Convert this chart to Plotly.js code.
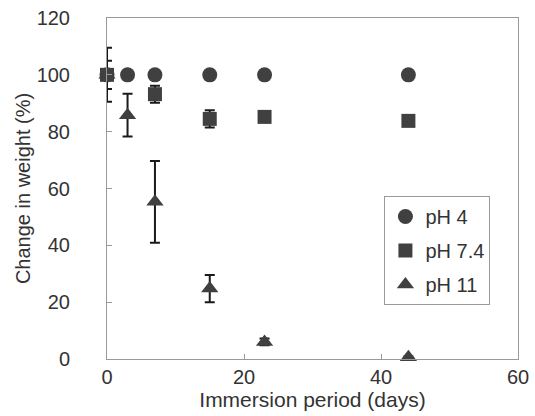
<!DOCTYPE html>
<html>
<head>
<meta charset="utf-8">
<script src="https://cdn.plot.ly/plotly-3.0.1.min.js"></script>
<style>html,body{margin:0;padding:0;background:#fff;}#chart{width:535px;height:416px;}</style>
</head>
<body>
<div id="chart"></div>
<script>
// Data
const seriesNames = ["pH 4", "pH 7.4", "pH 11"];

const days_pH4 = [0, 3, 7, 15, 23, 44];
const weight_pH4 = [100, 100, 100, 100, 100, 100];
const err_pH4 = [0, 0, 0, 0, 0, 0];

const days_pH74 = [0, 7, 15, 23, 44];
const weight_pH74 = [100, 93.2, 84.5, 85.2, 83.8];
const err_pH74 = [5, 3, 3, 0.5, 0.5];

const days_pH11 = [0, 3, 7, 15, 23, 44];
const weight_pH11 = [100, 85.8, 55.3, 24.8, 6, 0.6];
const err_pH11 = [9.5, 7.5, 14.4, 4.8, 1.2, 0.3];

const xTicks = [0, 20, 40, 60];
const yTicks = [0, 20, 40, 60, 80, 100, 120];

const markColor = "#404040";
const errStyle = (arr) => ({type: "data", array: arr, visible: true, color: "#1a1a1a", thickness: 2, width: 5});

const traces = [
  {
    name: seriesNames[2], x: days_pH11, y: weight_pH11, error_y: errStyle(err_pH11),
    mode: "markers", type: "scatter", legendrank: 3, legendgroup: "c", cliponaxis: false,
    marker: {symbol: "triangle-up", size: 15, color: markColor}
  },
  {
    name: seriesNames[0], x: days_pH4, y: weight_pH4, error_y: errStyle(err_pH4),
    mode: "markers", type: "scatter", legendrank: 1, legendgroup: "a", cliponaxis: false,
    marker: {symbol: "circle", size: 15, color: markColor}
  },
  {
    name: seriesNames[1], x: days_pH74, y: weight_pH74, error_y: errStyle(err_pH74),
    mode: "markers", type: "scatter", legendrank: 2, legendgroup: "b", cliponaxis: false,
    marker: {symbol: "square", size: 14, color: markColor}
  }
];

const fontFam = "Liberation Sans, Arial, sans-serif";
const layout = {
  width: 535, height: 416,
  margin: {l: 107, r: 17, t: 18, b: 57},
  paper_bgcolor: "#fff", plot_bgcolor: "#fff",
  font: {family: fontFam, size: 20, color: "#333"},
  showlegend: true,
  legend: {
    x: 0.675, y: 0.478, xanchor: "left", yanchor: "top",
    bordercolor: "#999", borderwidth: 1, bgcolor: "#fff",
    font: {family: fontFam, size: 20, color: "#333"},
    traceorder: "grouped", tracegroupgap: 5, itemwidth: 30
  },
  xaxis: {
    range: [0, 60], tickvals: xTicks, ticktext: xTicks.map(String),
    showline: true, linecolor: "#999", linewidth: 1, mirror: true,
    ticks: "inside", ticklen: 5, tickcolor: "#999",
    showgrid: false, zeroline: false,
    title: {text: "Immersion period (days)", font: {size: 21, color: "#333"}, standoff: 2}
  },
  yaxis: {
    range: [0, 120], tickvals: yTicks, ticktext: yTicks.map(String),
    showline: true, linecolor: "#999", linewidth: 1, mirror: true,
    ticks: "inside", ticklen: 5, tickcolor: "#999",
    showgrid: false, zeroline: false, ticklabelstandoff: 32,
    title: {text: "Change in weight (%)", font: {size: 20, color: "#333"}, standoff: 0}
  }
};

Plotly.newPlot("chart", traces, layout, {displayModeBar: false, staticPlot: true});
</script>
</body>
</html>
